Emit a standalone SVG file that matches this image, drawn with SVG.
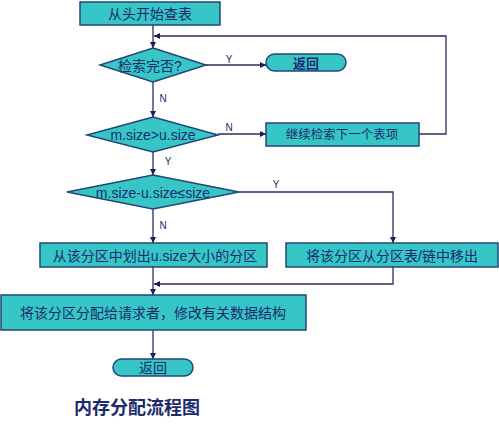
<svg xmlns="http://www.w3.org/2000/svg" width="499" height="429" viewBox="0 0 499 429">
<defs>
<style>
.box{fill:#36C6C6;stroke:#23457A;stroke-width:1.5}
.t{font-family:"Liberation Sans","Noto Sans CJK SC",sans-serif;fill:#1C2A6E;text-anchor:middle;dominant-baseline:central}
.lbl{font-family:"Liberation Sans",sans-serif;fill:#1C2A6E;font-size:10px;text-anchor:middle;dominant-baseline:central}
.ln{fill:none;stroke:#2B2B6A;stroke-width:1.3}
</style>
<marker id="ah" viewBox="0 0 10 10" refX="10" refY="5" markerWidth="6" markerHeight="6" orient="auto" markerUnits="userSpaceOnUse">
<path d="M0,0 L10,5 L0,10 z" fill="#1C1C5A"/>
</marker>
</defs>
<rect width="499" height="429" fill="#FFFFFF"/>
<g id="connectors">
<path class="ln" d="M153,25 V48" marker-end="url(#ah)"/>
<path class="ln" d="M419,134 H446 V36 H154" marker-end="url(#ah)"/>
<path class="ln" d="M206,65 H266" marker-end="url(#ah)"/>
<path class="ln" d="M153,82 V117" marker-end="url(#ah)"/>
<path class="ln" d="M218,134 H266" marker-end="url(#ah)"/>
<path class="ln" d="M153,152 V175" marker-end="url(#ah)"/>
<path class="ln" d="M239,192 H393 V243" marker-end="url(#ah)"/>
<path class="ln" d="M153,209 V243" marker-end="url(#ah)"/>
<path class="ln" d="M393,267 V284 H154" marker-end="url(#ah)"/>
<path class="ln" d="M153,267 V295" marker-end="url(#ah)"/>
<path class="ln" d="M153,330 V359" marker-end="url(#ah)"/>
<text class="lbl" x="229" y="59">Y</text>
<text class="lbl" x="163" y="98">N</text>
<text class="lbl" x="229" y="127">N</text>
<text class="lbl" x="168" y="161">Y</text>
<text class="lbl" x="276" y="184">Y</text>
<text class="lbl" x="163" y="225">N</text>
</g>
<g id="start">
<rect class="box" x="80" y="2" width="140" height="23"/>
<text class="t" x="150" y="14" font-size="14">从头开始查表</text>
</g>
<g id="check-done">
<polygon class="box" points="153,48 206,65 153,82 100,65"/>
<text class="t" x="150" y="66" font-size="14">检索完否?</text>
</g>
<g id="return1">
<rect class="box" x="266" y="54" width="80" height="17" rx="8.5"/>
<text class="t" x="306" y="63" font-size="13" font-weight="bold">返回</text>
</g>
<g id="size-compare">
<polygon class="box" points="153,117 218,135 153,152 87,135"/>
<text class="t" x="153" y="135" font-size="14">m.size&gt;u.size</text>
</g>
<g id="next-item">
<rect class="box" x="266" y="123" width="153" height="23"/>
<text class="t" x="342" y="135" font-size="12.5">继续检索下一个表项</text>
</g>
<g id="remainder-check">
<polygon class="box" points="153,175 239,192 153,209 67,192"/>
<text class="t" x="153" y="193" font-size="14">m.size-u.size≤size</text>
</g>
<g id="split">
<rect class="box" x="40" y="243" width="227" height="24"/>
<text class="t" x="155" y="256" font-size="14">从该分区中划出u.size大小的分区</text>
</g>
<g id="remove">
<rect class="box" x="286" y="243" width="212" height="24"/>
<text class="t" x="392" y="256" font-size="14">将该分区从分区表/链中移出</text>
</g>
<g id="allocate">
<rect class="box" x="1" y="295" width="305" height="35"/>
<text class="t" x="153" y="313" font-size="14">将该分区分配给请求者，修改有关数据结构</text>
</g>
<g id="return2">
<rect class="box" x="113" y="359" width="80" height="17" rx="8.5"/>
<text class="t" x="153" y="368" font-size="14">返回</text>
</g>
<g id="title">
<text class="t" x="137" y="408" font-size="18" font-weight="bold">内存分配流程图</text>
</g>
</svg>
